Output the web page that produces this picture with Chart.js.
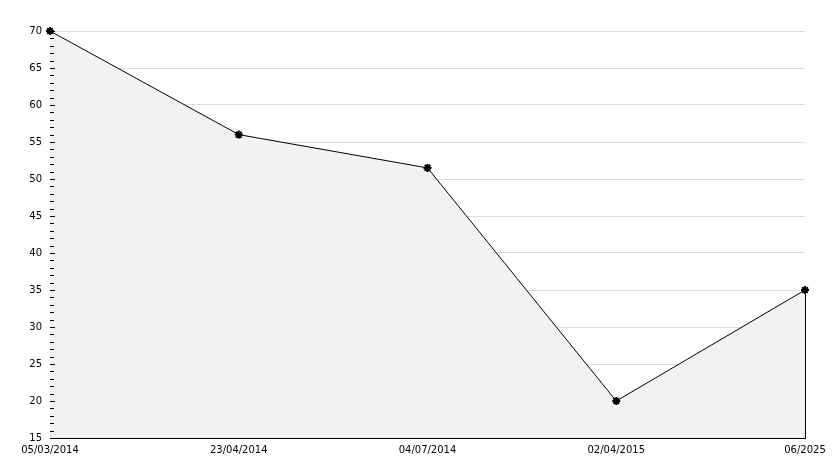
<!DOCTYPE html>
<html>
<head>
<meta charset="utf-8">
<script src="https://cdn.jsdelivr.net/npm/chart.js@4"></script>
<style>
  html, body { margin: 0; padding: 0; background: #fff; }
  #wrap { width: 834px; height: 468px; }
</style>
</head>
<body>
<div id="wrap"><canvas id="chart" width="834" height="468"></canvas></div>
<script>
const dates = ['05/03/2014', '23/04/2014', '04/07/2014', '02/04/2015', '06/2025'];
const values = [70, 56, 51.5, 20, 35];
const yMin = 15;
const yMax = 70;
const yStep = 5;

// small inward ticks on the y axis + closing edge of the filled area
const axisExtras = {
  id: 'axisExtras',
  afterDatasetsDraw(chart) {
    const ctx = chart.ctx;
    const y = chart.scales.y;
    const area = chart.chartArea;
    ctx.save();
    ctx.strokeStyle = '#000';
    ctx.lineWidth = 1;
    ctx.beginPath();
    for (let v = yMin; v <= yMax; v++) {
      const py = Math.round(y.getPixelForValue(v)) + 0.5;
      const len = v % yStep === 0 ? 5 : 4;
      ctx.moveTo(area.left, py);
      ctx.lineTo(area.left + len, py);
    }
    // right edge of filled area
    const meta = chart.getDatasetMeta(0);
    const last = meta.data[meta.data.length - 1];
    const px = Math.round(last.x) + 0.5;
    ctx.moveTo(px, last.y);
    ctx.lineTo(px, area.bottom);
    ctx.stroke();
    ctx.restore();
  }
};

new Chart(document.getElementById('chart'), {
  type: 'line',
  data: {
    labels: dates,
    datasets: [{
      data: values,
      clip: false,
      borderColor: '#000',
      borderWidth: 1,
      backgroundColor: '#f2f2f2',
      fill: 'start',
      tension: 0,
      pointStyle: 'star',
      pointRadius: 4,
      pointBorderWidth: 2,
      pointBorderColor: '#000',
      pointBackgroundColor: '#000'
    }]
  },
  options: {
    responsive: false,
    animation: false,
    layout: { padding: { top: 31, right: 29, left: 0, bottom: 0 } },
    plugins: {
      legend: { display: false },
      tooltip: { enabled: false }
    },
    scales: {
      x: {
        offset: false,
        grid: { display: false, drawTicks: false },
        border: { display: true, color: '#000', width: 1 },
        ticks: {
          color: '#000',
          font: { family: 'DejaVu Sans', size: 10 },
          padding: 6,
          maxRotation: 0,
          autoSkip: false
        },
        afterFit(scale) { scale.height = 30; }
      },
      y: {
        min: yMin,
        max: yMax,
        grid: { color: '#dddddd', drawTicks: false },
        border: { display: true, color: '#000', width: 1 },
        ticks: {
          stepSize: yStep,
          color: '#000',
          font: { family: 'DejaVu Sans', size: 10 },
          padding: 8
        },
        afterFit(scale) { scale.width = 50; }
      }
    }
  },
  plugins: [axisExtras]
});
</script>
</body>
</html>
